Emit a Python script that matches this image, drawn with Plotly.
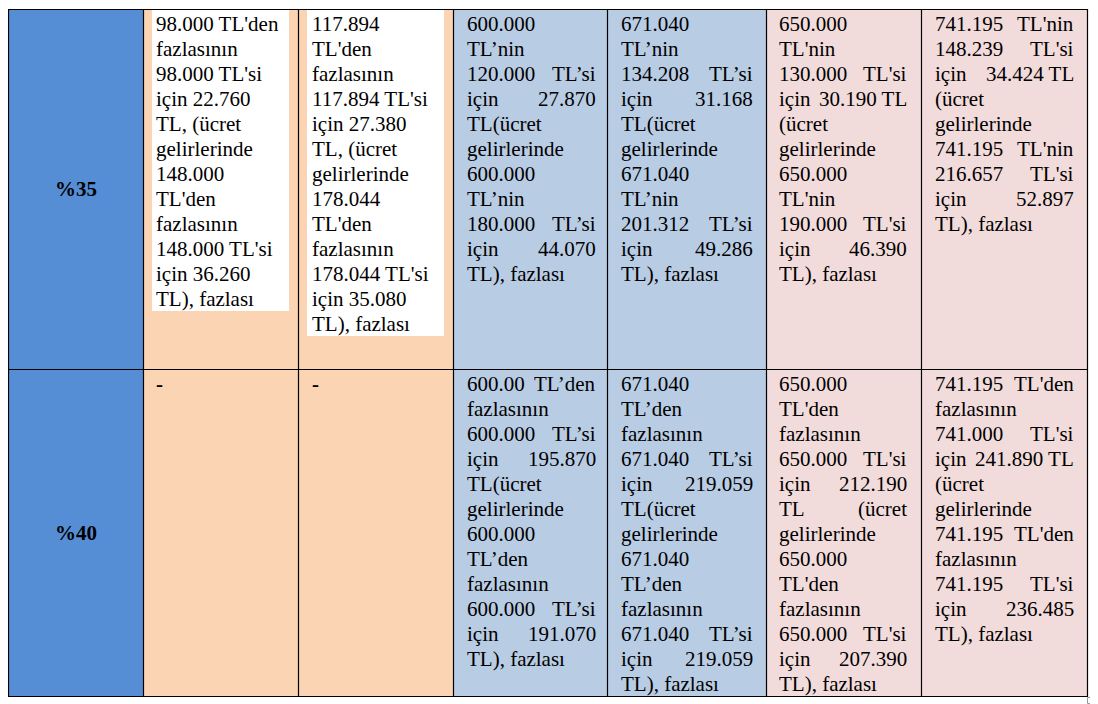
import plotly.graph_objects as go

# ---------------- data ----------------
rates = ["%35", "%40"]

row35 = [
    ["98.000 TL'den", "fazlasının", "98.000 TL'si", "için 22.760", "TL, (ücret",
     "gelirlerinde", "148.000", "TL'den", "fazlasının", "148.000 TL'si",
     "için 36.260", "TL), fazlası"],
    ["117.894", "TL'den", "fazlasının", "117.894 TL'si", "için 27.380",
     "TL, (ücret", "gelirlerinde", "178.044", "TL'den", "fazlasının",
     "178.044 TL'si", "için 35.080", "TL), fazlası"],
    ["600.000", "TL’nin", "120.000 TL’si", "için 27.870", "TL(ücret",
     "gelirlerinde", "600.000", "TL’nin", "180.000 TL’si", "için 44.070",
     "TL), fazlası"],
    ["671.040", "TL’nin", "134.208 TL’si", "için 31.168", "TL(ücret",
     "gelirlerinde", "671.040", "TL’nin", "201.312 TL’si", "için 49.286",
     "TL), fazlası"],
    ["650.000", "TL'nin", "130.000 TL'si", "için 30.190 TL", "(ücret",
     "gelirlerinde", "650.000", "TL'nin", "190.000 TL'si", "için 46.390",
     "TL), fazlası"],
    ["741.195 TL'nin", "148.239 TL'si", "için 34.424 TL", "(ücret",
     "gelirlerinde", "741.195 TL'nin", "216.657 TL'si", "için 52.897",
     "TL), fazlası"],
]

row40 = [
    ["-"],
    ["-"],
    ["600.00 TL’den", "fazlasının", "600.000 TL’si", "için 195.870", "TL(ücret",
     "gelirlerinde", "600.000", "TL’den", "fazlasının", "600.000 TL’si",
     "için 191.070", "TL), fazlası"],
    ["671.040", "TL’den", "fazlasının", "671.040 TL’si", "için 219.059",
     "TL(ücret", "gelirlerinde", "671.040", "TL’den", "fazlasının",
     "671.040 TL’si", "için 219.059", "TL), fazlası"],
    ["650.000", "TL'den", "fazlasının", "650.000 TL'si", "için 212.190",
     "TL (ücret", "gelirlerinde", "650.000", "TL'den", "fazlasının",
     "650.000 TL'si", "için 207.390", "TL), fazlası"],
    ["741.195 TL'den", "fazlasının", "741.000 TL'si", "için 241.890 TL",
     "(ücret", "gelirlerinde", "741.195 TL'den", "fazlasının", "741.195 TL'si",
     "için 236.485", "TL), fazlası"],
]

rows = [row35, row40]

# ---------------- layout geometry / style ----------------
PAGE_W, PAGE_H = 1098, 704
BODY = 8  # default html body margin; figure placed at (8, 8)
W, H = PAGE_W - BODY, PAGE_H - BODY

col_edges = [8, 143, 298, 453, 607, 766, 921, 1087]
row_edges = [9, 369, 696]
text_left = [155, 311, 466, 620, 778, 934]
text_right = [None, None, 597, 754, 908, 1075]
justify = [False, False, True, True, True, True]
col_fill = ["#FBD4B4", "#FBD4B4", "#B8CCE4", "#B8CCE4", "#F2DBDB", "#F2DBDB"]
first_col_fill = "#558ED5"
highlight = [(152, 289, 10, 311), (307, 444, 10, 336)]  # white text background, row 1

FONT = "'Liberation Serif', 'Times New Roman', Times, serif"
FS = 21
LINE = 25
FIRST_BASE = 21.7
MID_OFF = 7.0

shapes = []
annotations = []

for r in range(2):
    y0, y1 = row_edges[r], row_edges[r + 1]
    shapes.append(dict(type="rect", xref="x", yref="y", x0=col_edges[0], x1=col_edges[1],
                       y0=y0, y1=y1, fillcolor=first_col_fill, line=dict(width=0), layer="below"))
    for c in range(6):
        shapes.append(dict(type="rect", xref="x", yref="y", x0=col_edges[c + 1], x1=col_edges[c + 2],
                           y0=y0, y1=y1, fillcolor=col_fill[c], line=dict(width=0), layer="below"))

for (hx0, hx1, hy0, hy1) in highlight:
    shapes.append(dict(type="rect", xref="x", yref="y", x0=hx0, x1=hx1, y0=hy0, y1=hy1,
                       fillcolor="white", line=dict(width=0), layer="below"))

for xe in col_edges:
    shapes.append(dict(type="line", xref="x", yref="y", x0=xe + 0.5, x1=xe + 0.5,
                       y0=row_edges[0], y1=row_edges[-1] + 1, line=dict(color="black", width=1.2)))
for ye in row_edges:
    shapes.append(dict(type="line", xref="x", yref="y", x0=col_edges[0], x1=col_edges[-1] + 1,
                       y0=ye + 0.5, y1=ye + 0.5, line=dict(color="black", width=1.2)))

# end-of-table marker
shapes.append(dict(type="rect", xref="x", yref="y", x0=1087.5, x1=1094.5, y0=697.5, y1=703.5,
                   fillcolor="rgba(0,0,0,0)", line=dict(color="#9A9A9A", width=1)))

for r, lab in enumerate(rates):
    annotations.append(dict(x=(col_edges[0] + col_edges[1]) / 2, y=(row_edges[r] + row_edges[r + 1]) / 2,
                            xref="x", yref="y", text="<b>" + lab + "</b>", showarrow=False,
                            xanchor="center", yanchor="middle", borderpad=0,
                            font=dict(family=FONT, size=FS, color="black")))

for r, row in enumerate(rows):
    top = row_edges[r]
    for c, lines in enumerate(row):
        for i, line in enumerate(lines):
            yb = top + FIRST_BASE + LINE * i - MID_OFF
            is_last = i == len(lines) - 1
            if justify[c] and not is_last and " " in line:
                first, rest = line.split(" ", 1)
                annotations.append(dict(x=text_left[c], y=yb, xref="x", yref="y", text=first,
                                        showarrow=False, xanchor="left", yanchor="middle", borderpad=0,
                                        font=dict(family=FONT, size=FS, color="black")))
                annotations.append(dict(x=text_right[c], y=yb, xref="x", yref="y", text=rest,
                                        showarrow=False, xanchor="right", yanchor="middle", borderpad=0,
                                        font=dict(family=FONT, size=FS, color="black")))
            else:
                txt = "<b>-</b>" if line == "-" else line
                annotations.append(dict(x=text_left[c], y=yb, xref="x", yref="y", text=txt,
                                        showarrow=False, xanchor="left", yanchor="middle", borderpad=0,
                                        font=dict(family=FONT, size=FS, color="black")))

fig = go.Figure()
fig.add_trace(go.Scatter(x=[BODY, PAGE_W], y=[BODY, PAGE_H], mode="markers", marker=dict(opacity=0),
                         hoverinfo="skip", showlegend=False))
fig.update_layout(
    width=W, height=H,
    margin=dict(l=0, r=0, t=0, b=0),
    paper_bgcolor="white", plot_bgcolor="white",
    xaxis=dict(range=[BODY, PAGE_W], visible=False, fixedrange=True),
    yaxis=dict(range=[PAGE_H, BODY], visible=False, fixedrange=True),
    shapes=shapes, annotations=annotations, showlegend=False,
)
fig.write_html("out.html", config={"displayModeBar": False})
